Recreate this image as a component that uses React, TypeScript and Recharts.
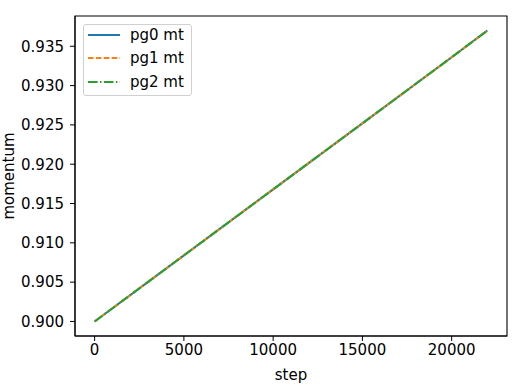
import React from "react";
import { LineChart, Line, XAxis, YAxis, ReferenceArea } from "recharts";

const steps = [0, 5000, 10000, 15000, 20000, 22000];
const pg0 = [0.9, 0.9084, 0.9168, 0.9252, 0.9336, 0.937];
const pg1 = [0.9, 0.9084, 0.9168, 0.9252, 0.9336, 0.937];
const pg2 = [0.9, 0.9084, 0.9168, 0.9252, 0.9336, 0.937];
const xTicks = [0, 5000, 10000, 15000, 20000];
const yTicks = [0.9, 0.905, 0.91, 0.915, 0.92, 0.925, 0.93, 0.935];
const seriesNames = ["pg0 mt", "pg1 mt", "pg2 mt"];

const data = steps.map((s, i) => ({ step: s, pg0: pg0[i], pg1: pg1[i], pg2: pg2[i] }));

const FONT = "DejaVu Sans, sans-serif";
const FS = 15;
const COLORS = ["#1f77b4", "#ff7f0e", "#2ca02c"];
const DASHES = [undefined, "5.5 2.4", "9.6 2.4 1.5 2.4"];
const X_DOMAIN = [-1100, 23100];
const Y_DOMAIN = [0.89815, 0.93885];

const LegendBox = () => (
  <div
    style={{
      position: "absolute",
      left: 83,
      top: 24,
      width: 109,
      height: 72,
      border: "1px solid #d0d0d0",
      borderRadius: 3,
      background: "rgba(255,255,255,0.8)",
      padding: "0 4px",
      fontFamily: FONT,
      fontSize: FS,
      boxSizing: "border-box",
      whiteSpace: "nowrap",
    }}
  >
    <div style={{ marginTop: -1.5 }}>
      {seriesNames.map((n, i) => (
        <div key={n} style={{ display: "flex", alignItems: "center", height: 23.3 }}>
          <svg width={32} height={10} style={{ marginRight: 10, flexShrink: 0 }}>
            <line x1={0} y1={5} x2={32} y2={5} stroke={COLORS[i]} strokeWidth={2} strokeDasharray={DASHES[i]} />
          </svg>
          <span style={{ color: "#000" }}>{n}</span>
        </div>
      ))}
    </div>
  </div>
);

export default function App() {
  return (
    <div style={{ position: "absolute", left: 0, top: 0, width: 527, height: 386, background: "#fff" }}>
      <LineChart width={527} height={386} data={data} margin={{ top: 16, right: 20, bottom: 0, left: 0 }}>
        <XAxis
          dataKey="step"
          type="number"
          domain={X_DOMAIN}
          ticks={xTicks}
          allowDataOverflow
          height={50}
          stroke="#000"
          tickSize={5}
          tickMargin={3}
          tick={{ fill: "#000", fontFamily: FONT, fontSize: FS }}
          label={{ value: "step", position: "insideBottom", offset: 6, fill: "#000", fontFamily: FONT, fontSize: FS }}
        />
        <YAxis
          type="number"
          domain={Y_DOMAIN}
          ticks={yTicks}
          allowDataOverflow
          width={75}
          stroke="#000"
          tickSize={5}
          tickMargin={6}
          tickFormatter={(v: number) => v.toFixed(3)}
          tick={{ fill: "#000", fontFamily: FONT, fontSize: FS }}
          label={{ value: "momentum", angle: -90, position: "insideLeft", offset: 9, fill: "#000", fontFamily: FONT, fontSize: FS, style: { textAnchor: "middle" } }}
        />
        <ReferenceArea
          x1={X_DOMAIN[0]}
          x2={X_DOMAIN[1]}
          y1={Y_DOMAIN[0]}
          y2={Y_DOMAIN[1]}
          fill="none"
          stroke="#000"
          strokeWidth={1.1}
          ifOverflow="visible"
        />
        <Line dataKey="pg0" name="pg0 mt" stroke={COLORS[0]} strokeWidth={2} dot={false} isAnimationActive={false} />
        <Line dataKey="pg1" name="pg1 mt" stroke={COLORS[1]} strokeWidth={2} strokeDasharray={DASHES[1]} dot={false} isAnimationActive={false} />
        <Line dataKey="pg2" name="pg2 mt" stroke={COLORS[2]} strokeWidth={2} strokeDasharray={DASHES[2]} dot={false} isAnimationActive={false} />
      </LineChart>
      <LegendBox />
    </div>
  );
}
